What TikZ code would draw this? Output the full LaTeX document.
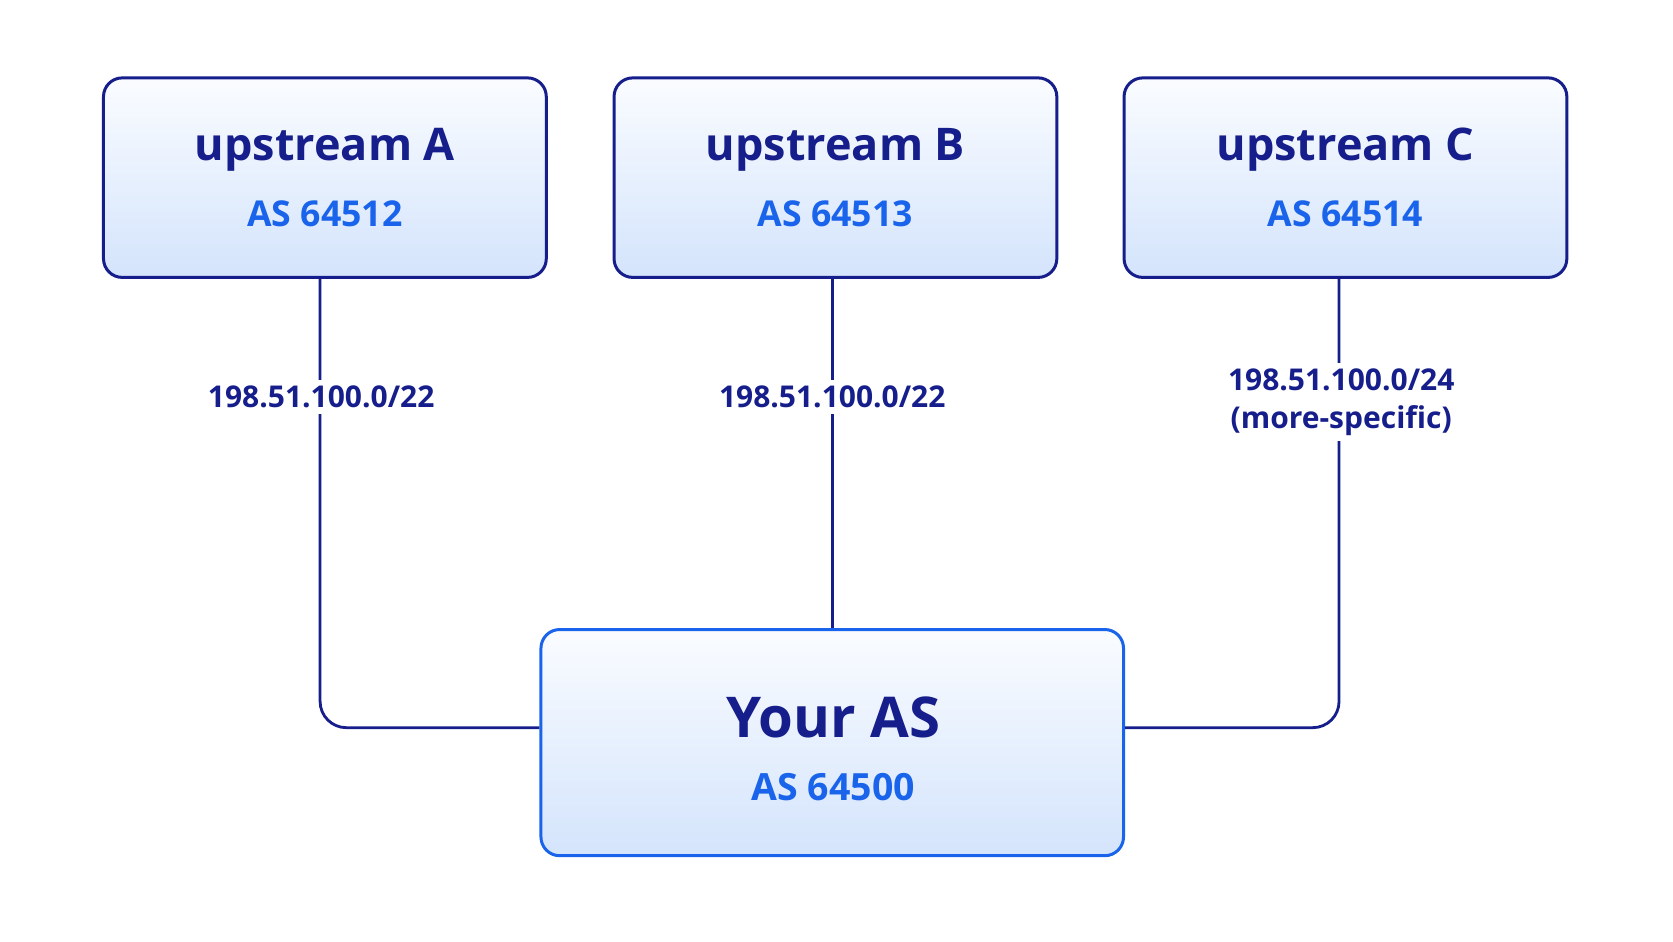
\documentclass[tikz,border=0pt]{standalone}
\usepackage{fontspec}
\setmainfont{Open Sans}
\begin{document}
\definecolor{navy}{RGB}{22,30,140}
\definecolor{asblue}{RGB}{25,100,235}
\definecolor{topf}{RGB}{250,252,255}
\definecolor{botf}{RGB}{212,228,252}
\begin{tikzpicture}[x=0.02cm,y=-0.02cm,
  box/.style={draw=navy,line width=1.6pt,rounded corners=10pt,top color=topf,bottom color=botf,minimum width=415*0.02cm,minimum height=187*0.02cm},
  link/.style={draw=navy,line width=1.5pt,rounded corners=14pt},
  lbl/.style={fill=white,text=navy,font=\bfseries\fontsize{16}{19}\selectfont,align=center,inner sep=3pt}]
\useasboundingbox (0,0) rectangle (1568,882);
\node[box] (A) at (304.5,166.5) {};
\node[box] (B) at (783,166.5) {};
\node[box] (C) at (1261,166.5) {};
\node[box,draw=asblue,minimum width=546*0.02cm,minimum height=212*0.02cm] (Y) at (780,696) {};
\foreach \n/\t/\a in {A/upstream A/AS 64512,B/upstream B/AS 64513,C/upstream C/AS 64514}{
  \node[text=navy,font=\bfseries\fontsize{24}{28}\selectfont] (\n t) at ([yshift=-0.02cm*(-26)]\n.center) {\t};
  \node[text=asblue,font=\bfseries\fontsize{19}{22}\selectfont] (\n a) at ([yshift=-0.02cm*(34)]\n.center) {\a};
}
\node[text=navy,font=\bfseries\fontsize{30}{34}\selectfont] (Yt) at (781,672) {Your AS};
\node[text=asblue,font=\bfseries\fontsize{20}{24}\selectfont] (Ya) at (781,738) {AS 64500};
\coordinate (ca) at (300,682);
\coordinate (cc) at (1255,682);
\draw[link] (A.south -| ca) -- (ca) -- (Y.west |- ca);
\draw[link] (B.south -| Y.north) -- (Y.north);
\draw[link] (C.south -| cc) -- (cc) -- (Y.east |- cc);
\node[lbl] (la) at (301,372) {198.51.100.0/22};
\node[lbl] (lb) at (780,372) {198.51.100.0/22};
\node[lbl,font=\bfseries\fontsize{16}{20}\selectfont] (lc) at (1257,377) {198.51.100.0/24\\(more-specific)};
\end{tikzpicture}
\end{document}
